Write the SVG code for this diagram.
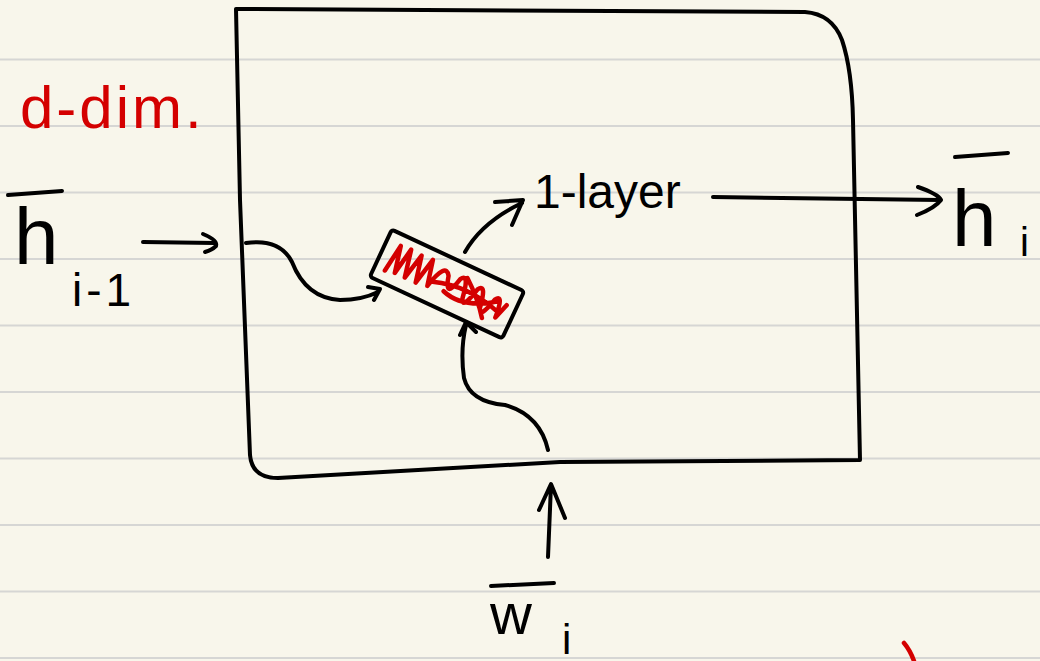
<svg xmlns="http://www.w3.org/2000/svg" width="1040" height="661" viewBox="0 0 1040 661">
<style>
.rule{stroke:#d6d6d4;stroke-width:2}
.ink{fill:none;stroke:#000;stroke-width:4;stroke-linecap:round;stroke-linejoin:round}
.red{fill:none;stroke:#d40000;stroke-width:4.5;stroke-linecap:round;stroke-linejoin:round}
.t{font-family:"Liberation Sans",Arial,sans-serif;fill:#000}
.tr{font-family:"Liberation Sans",Arial,sans-serif;fill:#d40000}
</style>
<rect width="1040" height="661" fill="#f8f6eb"/>
<g id="paper-lines">
<line class="rule" x1="0" y1="59.5" x2="1040" y2="59.5"/>
<line class="rule" x1="0" y1="126" x2="1040" y2="126"/>
<line class="rule" x1="0" y1="192.5" x2="1040" y2="192.5"/>
<line class="rule" x1="0" y1="259" x2="1040" y2="259"/>
<line class="rule" x1="0" y1="325.5" x2="1040" y2="325.5"/>
<line class="rule" x1="0" y1="392" x2="1040" y2="392"/>
<line class="rule" x1="0" y1="458.5" x2="1040" y2="458.5"/>
<line class="rule" x1="0" y1="525" x2="1040" y2="525"/>
<line class="rule" x1="0" y1="591.5" x2="1040" y2="591.5"/>
<line class="rule" x1="0" y1="658" x2="1040" y2="658"/>
</g>
<g id="box">
<path class="ink" d="M236 9 L805 12 Q832 14 842 40 Q852 70 853 120 L860 460 L560 462 Q420 470 278 478 Q252 478 250 455 L240 200 Z"/>
</g>
<g id="label-d-dim">
<text class="tr" x="20" y="128" font-size="60" letter-spacing="3">d-dim.</text>
</g>
<g id="h-prev">
<line class="ink" x1="8" y1="195" x2="62" y2="191"/>
<text class="t" x="14" y="264" font-size="80">h</text>
<text class="t" x="72" y="306" font-size="46" letter-spacing="4">i-1</text>
</g>
<g id="crossed-out">
<g transform="translate(447 284) rotate(25)">
<rect class="ink" x="-73" y="-26" width="146" height="52" rx="3"/>
<path class="red" d="M-62 14 L-58 -15 L-52 12 L-47 -16 L-41 12 L-35 -15 L-29 12 L-23 -16 L-17 10 Q-10 -20 -2 -8 Q4 16 10 -10 Q16 -20 20 6 Q24 18 30 -8 Q36 -18 40 8 Q44 18 50 -6 Q56 -16 58 10 L63 -6 M-14 4 Q20 -8 58 4 M0 8 Q24 16 54 -6 M16 -14 Q34 0 46 16"/>
</g>
</g>
<g id="layer">
<text class="t" x="534" y="208" font-size="48">1-layer</text>
</g>
<g id="h-out">
<line class="ink" x1="955" y1="157" x2="1008" y2="153"/>
<text class="t" x="952" y="246" font-size="80">h</text>
<text class="t" x="1020" y="256" font-size="40">i</text>
</g>
<g id="w-in">
<line class="ink" x1="491" y1="586" x2="554" y2="583"/>
<text class="t" x="490" y="634" font-size="58">w</text>
<text class="t" x="562" y="654" font-size="42">i</text>
</g>
<g id="red-mark">
<path class="red" d="M904 643 Q910 650 914 661"/>
</g>
<g id="connectors">
<path class="ink" d="M143 242 L215 243 M203 234 Q218 240 216 246 Q212 250 205 252"/>
<path class="ink" d="M246 243 Q280 238 292 262 Q306 298 340 300 Q362 300 378 292 M368 287 L380 289 L374 300"/>
<path class="ink" d="M465 252 Q482 222 522 203 M495 202 L523 200 L512 225"/>
<path class="ink" d="M713 197 L940 200 M918 187 Q938 194 941 200 Q935 208 917 215"/>
<path class="ink" d="M548 450 Q540 415 505 405 Q470 402 464 378 Q460 350 466 325 M460 335 L466 322 L476 332"/>
<path class="ink" d="M548 557 L551 485 M539 510 L551 484 L565 518"/>
</g>
</svg>
